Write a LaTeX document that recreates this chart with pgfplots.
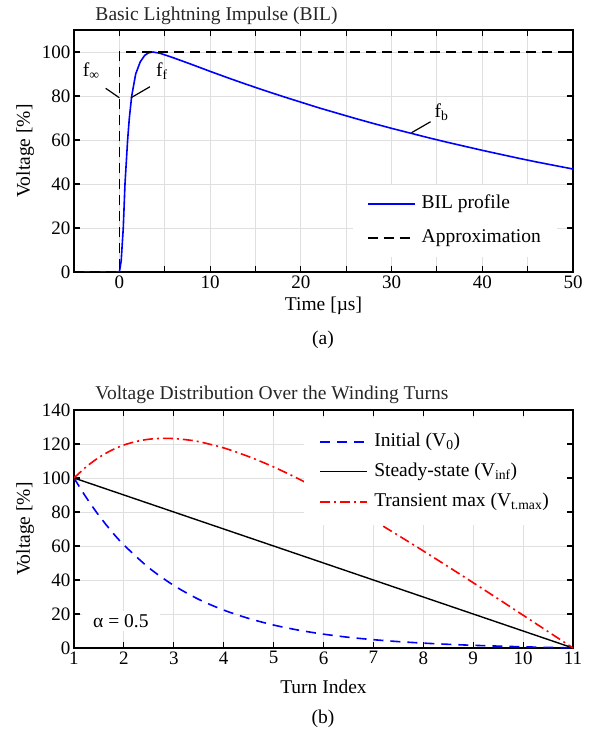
\documentclass[border=0pt]{standalone}
\usepackage{fontspec}
\setmainfont{Liberation Serif}
\usepackage{pgfplots}
\pgfplotsset{compat=1.18}

\newcommand\fs{\fontsize{19.5}{22}\selectfont}
\newcommand\ts{\fontsize{19}{21}\selectfont}

\pgfplotsset{
  paper/.style={
    scale only axis, width=499pt, anchor=south west,
    axis line style={line width=1.1pt},
    every tick/.style={black, line width=1.1pt},
    major tick length=6pt, minor tick length=6pt,
    grid=both,
    grid style={gray!25, line width=0.9pt},
    minor grid style={gray!25, line width=0.9pt},
    tick label style={font=\ts},
    /pgf/number format/assume math mode=true,
    label style={font=\fs},
    xlabel style={anchor=center},
    ylabel style={anchor=center},
    every axis title/.style={anchor=base west, font=\fs, text=black!85},
    legend cell align=left,
    legend image code/.code={\draw[##1] (0pt,0pt) -- (47pt,0pt);},
    legend style={draw=none, fill=white, font=\fs,
      nodes={inner sep=2pt, text height=14pt, text depth=5pt},
      /tikz/every odd column/.append style={column sep=4pt}},
  }
}

\begin{document}
\begin{tikzpicture}
\path[use as bounding box] (0pt,0pt) rectangle (592pt,736pt);

% (a) lightning impulse
\begin{axis}[paper, at={(74pt,464pt)}, height=242pt,
  xmin=-5, xmax=50, ymin=0, ymax=110,
  xtick={0,10,...,50}, minor xtick={-5,5,...,45},
  ytick={0,20,...,100},
  title={Basic Lightning Impulse (BIL)},
  title style={at={(axis description cs:0.036,1.038)}},
  xlabel={Time [µs]}, ylabel={Voltage [\%]},
  xlabel style={at={(axis description cs:0.5,-0.14)}},
  ylabel style={at={(axis description cs:-0.098,0.5)}},
  legend style={at={(axis description cs:0.968,0.062)}, anchor=south east,
    inner xsep=14pt, inner ysep=7.5pt, row sep=11pt},
]
\addplot[blue, line width=1.6pt] coordinates {
  (-5,0) (0,0) (0.2,5) (0.43,20) (0.62,40) (0.91,60) (1.1,70) (1.36,80)
  (1.8,90) (2.3,95.5) (2.8,98.5) (3.2,99.6) (3.7,100) (4.5,99.4) (5,98.7)
  (6,97.3) (7,95.8) (8,94.3) (10,91.2) (12,88.2) (14,85.3) (16,82.5)
  (18,79.8) (20,77.2) (22,74.6) (24,72.2) (26,69.8) (28,67.5) (30,65.3)
  (32,63.2) (34,61.1) (36,59.1) (38,57.2) (40,55.3) (42,53.5) (44,51.7)
  (46,50.0) (48,48.4) (50,46.8)};
\addlegendentry{BIL profile}
\addplot[black, line width=1.6pt, dash pattern=on 10pt off 6pt] coordinates {
  (-5,0) (0,0) (0,100) (50,100)};
\addlegendentry{Approximation}

\draw[line width=1.2pt] (axis cs:-1.51,83.5) -- (axis cs:0,79.2);
\draw[line width=1.2pt] (axis cs:1.28,79.2) -- (axis cs:3.37,84.2);
\draw[line width=1.2pt] (axis cs:32.2,63.3) -- (axis cs:34.3,68.3);
\node[font=\fs] at (axis cs:-3.1,91.5) {f\textsubscript{∞}};
\node[font=\fs] at (axis cs:4.7,91.4) {f\textsubscript{f}};
\node[font=\fs] at (axis cs:35.5,72.7) {f\textsubscript{b}};
\end{axis}

% (b) voltage distribution
\begin{axis}[paper, at={(74pt,88pt)}, height=238pt,
  xmin=1, xmax=11, ymin=0, ymax=140,
  xtick={1,...,11}, ytick={0,20,...,140},
  title={Voltage Distribution Over the Winding Turns},
  title style={at={(axis description cs:0.036,1.045)}},
  xlabel={Turn Index}, ylabel={Voltage [\%]},
  xlabel style={at={(axis description cs:0.5,-0.164)}},
  ylabel style={at={(axis description cs:-0.098,0.5)}},
  legend style={at={(axis description cs:0.988,0.966)}, anchor=north east,
    inner xsep=16pt, inner ysep=12pt, row sep=7pt},
]
\addplot[blue, line width=1.6pt, dash pattern=on 10pt off 7pt, smooth] coordinates {
  (1,100) (1.25,88.3) (1.5,77.9) (1.75,68.7) (2,60.6) (2.5,47.2) (3,36.8)
  (3.5,28.6) (4,22.3) (4.5,17.4) (5,13.5) (5.5,10.5) (6,8.15) (6.5,6.3)
  (7,4.89) (7.5,3.76) (8,2.87) (8.5,2.16) (9,1.58) (9.5,1.11) (10,0.70)
  (10.5,0.34) (11,0)};
\addlegendentry{Initial (V\textsubscript{0})}
\addplot[black, line width=1.4pt] coordinates {(1,100) (11,0)};
\addlegendentry{Steady-state (V\textsubscript{inf})}
\addplot[red, line width=1.6pt, dash pattern=on 10pt off 4pt on 2pt off 4pt, smooth] coordinates {
  (1,100) (1.25,106.7) (1.5,112.1) (1.75,116.3) (2,119.4) (2.25,121.5)
  (2.5,122.8) (2.75,123.3) (3,123.2) (3.25,122.5) (3.5,121.4) (4,117.7)
  (4.5,112.6) (5,106.5) (5.5,99.5) (6,91.85) (6.5,83.7) (7,75.1) (7.5,66.2)
  (8,57.1) (8.5,47.8) (9,38.4) (9.5,28.9) (10,19.3) (10.5,9.66) (11,0)};
\addlegendentry{Transient max (V\textsubscript{t.max})}

\node[font=\fs, fill=white, inner xsep=11pt, inner ysep=3pt] at (axis cs:1.94,15.9) {α = 0.5};
\end{axis}

\node[font=\fs] at (323pt,396pt) {(a)};
\node[font=\fs] at (323pt,17pt) {(b)};
\end{tikzpicture}
\end{document}
